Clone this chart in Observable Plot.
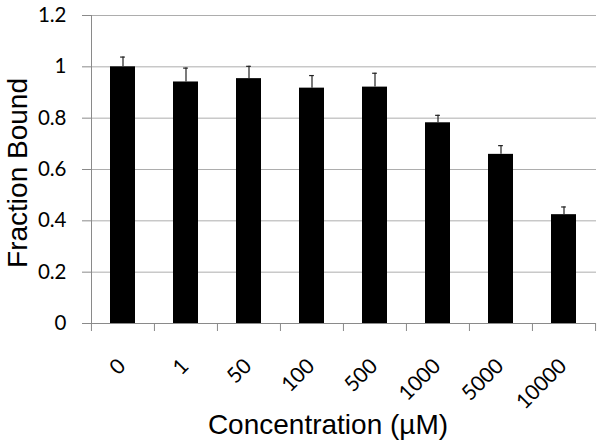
<!DOCTYPE html>
<html>
<head>
<meta charset="utf-8">
<script src="https://cdn.jsdelivr.net/npm/d3@7"></script>
<script src="https://cdn.jsdelivr.net/npm/@observablehq/plot@0.6"></script>
<style>
  html, body { margin: 0; padding: 0; background: #fff; }
  #chart svg { display: block; }
</style>
</head>
<body>
<div id="chart"></div>
<script>
// Data
const categories = ["0", "1", "50", "100", "500", "1000", "5000", "10000"];
const values = [1.0, 0.941, 0.954, 0.917, 0.921, 0.782, 0.659, 0.424];
const errors = [0.038, 0.054, 0.048, 0.049, 0.054, 0.029, 0.034, 0.030];
const yTicks = [0, 0.2, 0.4, 0.6, 0.8, 1, 1.2];
const xTitle = "Concentration (\u00B5M)";
const yTitle = "Fraction Bound";

const data = categories.map((c, i) => ({conc: c, value: values[i], err: errors[i]}));

const width = 602, height = 447;
const marginLeft = 91, marginRight = 6, marginTop = 15, marginBottom = 124;
const step = (width - marginLeft - marginRight) / categories.length;

const gridColor = "#adadad";
const axisColor = "#8a8a8a";
const tickFont = "Lato, 'Open Sans', sans-serif";
const titleFont = "'Liberation Sans', Arial, sans-serif";

const chart = Plot.plot({
  width, height, marginLeft, marginRight, marginTop, marginBottom,
  style: {background: "#fff", fontFamily: tickFont},
  x: {type: "band", domain: categories, paddingInner: 0.6, paddingOuter: 0.3, axis: null, label: null},
  y: {domain: [0, 1.2], axis: null, label: null},
  marks: [
    // horizontal gridlines
    Plot.gridY(yTicks.slice(1), {stroke: gridColor, strokeOpacity: 1}),
    // y axis ticks + labels
    Plot.axisY(yTicks, {
      tickSize: 9, stroke: axisColor, tickPadding: 16, label: null,
      tickFormat: d => String(d), fontSize: 20.5, fill: "#000",
      fontFamily: tickFont
    }),
    // x axis baseline and left axis line
    Plot.ruleY([0], {stroke: axisColor}),
    Plot.frame({anchor: "left", stroke: axisColor}),
    // x tick marks at category boundaries
    Plot.axisX(categories, {tickSize: 8, tickFormat: () => "", label: null, stroke: axisColor, dx: -step / 2}),
    Plot.axisX(categories.slice(-1), {tickSize: 8, tickFormat: () => "", label: null, stroke: axisColor, dx: step / 2}),
    // bars
    Plot.barY(data, {x: "conc", y: "value", fill: "#000"}),
    // error bars (upper only)
    Plot.ruleX(data, {x: "conc", y1: "value", y2: d => d.value + d.err, stroke: "#222", strokeWidth: 1.2}),
    Plot.tickY(data, {x: "conc", y: d => d.value + d.err, stroke: "#222", strokeWidth: 1.2,
      insetLeft: (step * 0.4 - 5) / 2, insetRight: (step * 0.4 - 5) / 2}),
    // rotated category labels
    Plot.text(categories, {
      x: d => d, text: d => d, frameAnchor: "bottom", dy: 39, dx: -1, rotate: -45,
      textAnchor: "end", lineAnchor: "middle", fontSize: 21, fill: "#000", fontFamily: tickFont
    }),
    // axis titles
    Plot.text([xTitle], {
      text: d => d, frameAnchor: "bottom", textAnchor: "middle", dx: -16, dy: 102, fontSize: 28,
      fill: "#000", fontFamily: titleFont, lineAnchor: "middle"
    }),
    Plot.text([yTitle], {
      text: d => d, frameAnchor: "left", textAnchor: "middle", rotate: -90, dx: -73, dy: 3.5, fontSize: 28,
      fill: "#000", fontFamily: titleFont, lineAnchor: "middle"
    })
  ]
});

document.getElementById("chart").appendChild(chart);
</script>
</body>
</html>
